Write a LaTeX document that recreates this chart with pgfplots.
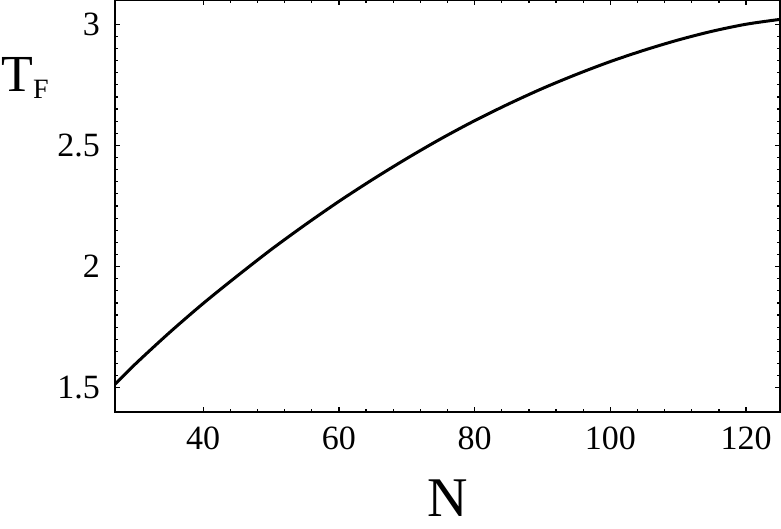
\documentclass[border=0pt]{standalone}
\usepackage{fontspec}
\setmainfont{Liberation Serif}
\usepackage{pgfplots}
\pgfplotsset{compat=1.18}

\begin{document}
\begin{tikzpicture}
\begin{axis}[
    at={(0,0)}, anchor=south west,
    scale only axis,
    width=332.5pt, height=206pt,
    xmin=27, xmax=125,
    ymin=1.4, ymax=3.1,
    xtick={40,60,80,100,120},
    ytick={1.5,2,2.5,3},
    minor x tick num=4,
    minor y tick num=9,
    tick align=inside,
    major tick length=2.6pt,
    minor tick length=1.5pt,
    every tick/.style={black, line width=0.6pt},
    axis line style={line width=0.9pt},
    /pgf/number format/assume math mode=true,
    ticklabel style={font=\fontsize{17}{20}\selectfont},
    yticklabel style={xshift=-4pt},
    xticklabel style={yshift=-4pt},
    every axis x label/.style={at={(axis description cs:0.5,0)}, anchor=center, yshift=-43pt},
    every axis y label/.style={at={(axis description cs:0,0.81)}, anchor=center, xshift=-45pt},
    xlabel={\fontsize{28}{30}\selectfont N},
    ylabel={\fontsize{26}{28}\selectfont T\raisebox{-3.5pt}{\fontsize{14}{14}\selectfont F}},
]
\addplot[black, line width=1.5pt, smooth] coordinates {
    (27,1.514) (30,1.598) (35,1.727) (40,1.848) (45,1.961) (50,2.070)
    (55,2.172) (60,2.269) (65,2.360) (70,2.446) (75,2.527) (80,2.602)
    (85,2.671) (90,2.735) (95,2.793) (100,2.846) (105,2.893) (110,2.935)
    (115,2.971) (120,3.000) (125,3.020)
};
\end{axis}
\pgfresetboundingbox
\useasboundingbox (-57.5pt,-58.5pt) rectangle (333pt,206pt);
\end{tikzpicture}
\end{document}
